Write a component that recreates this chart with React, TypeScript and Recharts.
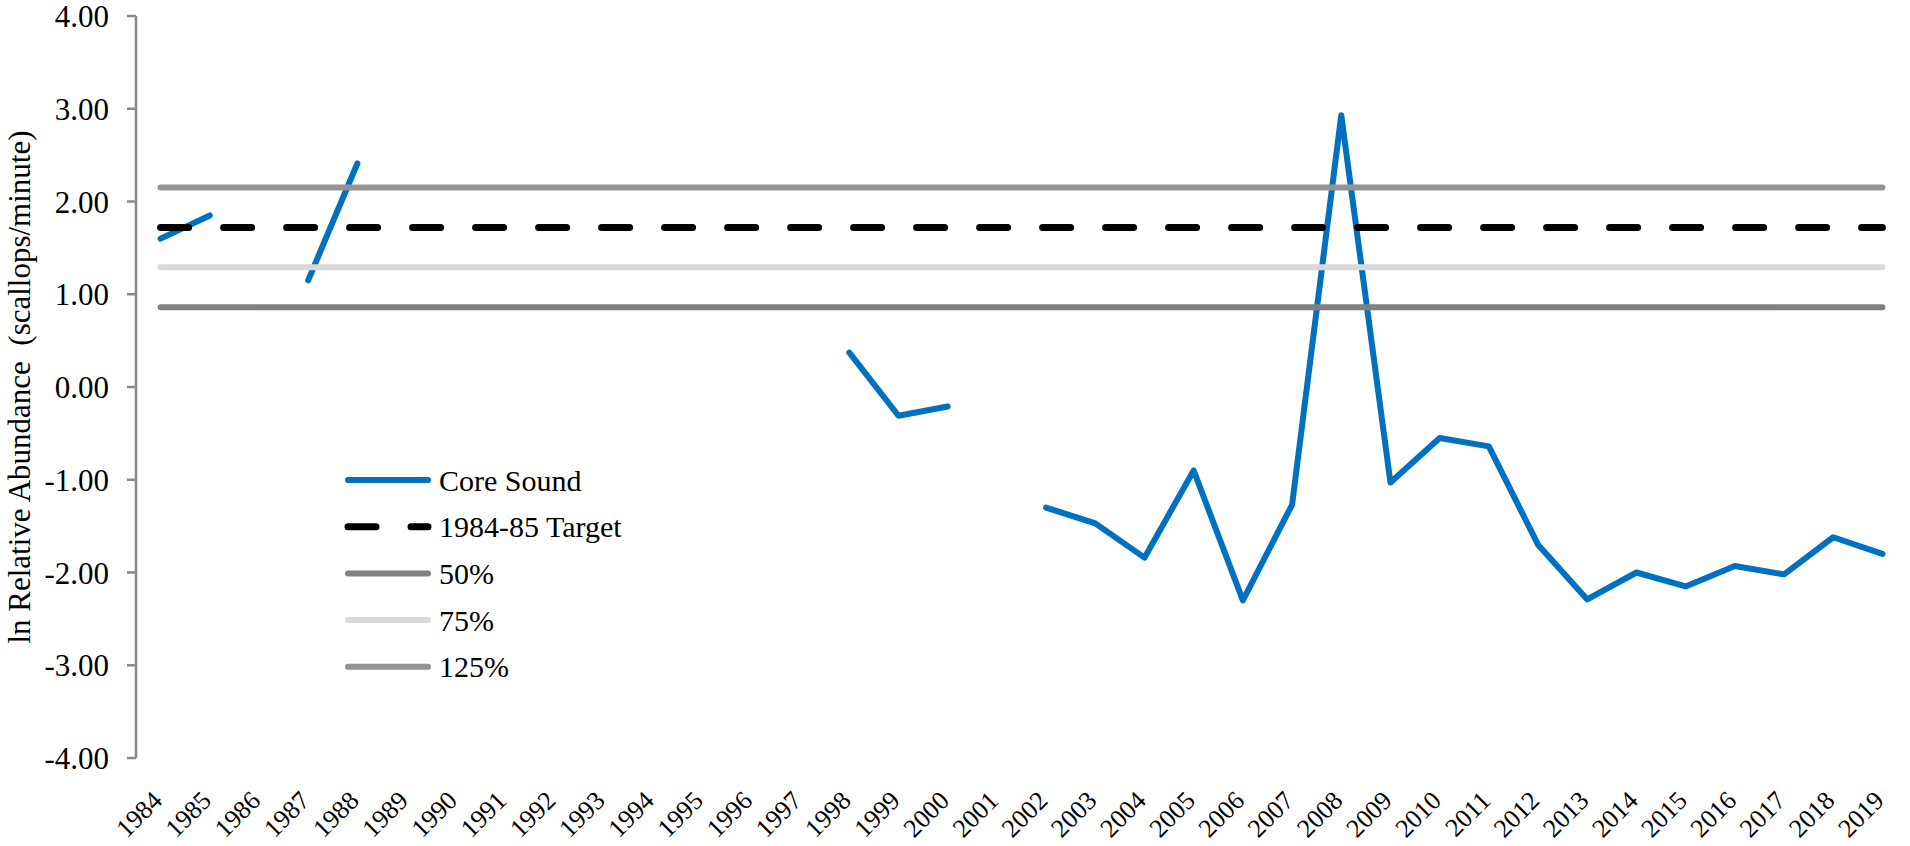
import { LineChart, Line, XAxis, YAxis, Legend } from "recharts";

const years = [
  1984, 1985, 1986, 1987, 1988, 1989, 1990, 1991, 1992, 1993, 1994, 1995,
  1996, 1997, 1998, 1999, 2000, 2001, 2002, 2003, 2004, 2005, 2006, 2007,
  2008, 2009, 2010, 2011, 2012, 2013, 2014, 2015, 2016, 2017, 2018, 2019,
];

// ln relative abundance, Core Sound (gaps = no survey)
const coreSound = [
  1.6, 1.85, null, 1.15, 2.41, null, null, null, null, null, null, null,
  null, null, 0.37, -0.31, -0.21, null, -1.3, -1.47, -1.84, -0.9, -2.3, -1.27,
  2.93, -1.03, -0.55, -0.64, -1.7, -2.29, -2.0, -2.15, -1.93, -2.02, -1.62, -1.8,
];

const targetValue = 1.72;
const pct50Value = 0.86;
const pct75Value = 1.29;
const pct125Value = 2.15;

const yTicks = [-4, -3, -2, -1, 0, 1, 2, 3, 4];

const FONT = "'Liberation Serif', 'Times New Roman', serif";
const AXIS = "#898989";

const series = [
  { key: "core", name: "Core Sound", color: "#0070C0", width: 6, dash: undefined },
  { key: "target", name: "1984-85 Target", color: "#000000", width: 7, dash: "28 35" },
  { key: "p50", name: "50%", color: "#808080", width: 6, dash: undefined },
  { key: "p75", name: "75%", color: "#D9D9D9", width: 6, dash: undefined },
  { key: "p125", name: "125%", color: "#939393", width: 6, dash: undefined },
];

const data = years.map((year, i) => ({
  year,
  core: coreSound[i],
  target: targetValue,
  p50: pct50Value,
  p75: pct75Value,
  p125: pct125Value,
}));

// tick marks sit between the years, Excel style
const bounds = [...years.map((y) => y - 0.5), years[years.length - 1] + 0.5];
const xDomain = [bounds[0], bounds[bounds.length - 1]];

function YearTick(props: any) {
  const { x, y, payload } = props;
  return (
    <text
      transform={`translate(${x + 3},${y + 44}) rotate(-45)`}
      textAnchor="end"
      fontSize={26}
      fontFamily={FONT}
      fill="#000"
    >
      {payload.value}
    </text>
  );
}

function YLabel(props: any) {
  const vb = props.viewBox;
  const cx = vb.x + 19;
  const cy = vb.y + vb.height / 2;
  return (
    <text
      transform={`translate(${cx},${cy}) rotate(-90)`}
      textAnchor="middle"
      dominantBaseline="central"
      fontSize={31}
      fontFamily={FONT}
      fill="#000"
      style={{ whiteSpace: "pre" }}
    >
      ln Relative Abundance  (scallops/minute)
    </text>
  );
}

function LegendBox(props: any) {
  const order = (k: any) => series.findIndex((s) => s.key === k);
  const items = [...(props.payload || [])].sort((a: any, b: any) => order(a.dataKey) - order(b.dataKey));
  const rowH = 46.7;
  return (
    <svg width={320} height={250}>
      {items.map((entry: any, i: number) => {
        const s = series.find((d) => d.key === entry.dataKey) || series[0];
        const cy = 24 + i * rowH;
        return (
          <g key={s.key}>
            <line
              x1={11}
              x2={91}
              y1={cy}
              y2={cy}
              stroke={s.color}
              strokeWidth={s.width}
              strokeDasharray={s.dash}
              strokeLinecap="round"
            />
            <text x={102} y={cy} dominantBaseline="central" fontSize={30} fontFamily={FONT} fill="#000">
              {entry.value}
            </text>
          </g>
        );
      })}
    </svg>
  );
}

export default function App() {
  return (
    <div style={{ position: "absolute", left: 0, top: 0, fontFamily: FONT }}>
      <LineChart width={1910} height={846} data={data} margin={{ top: 16, right: 3, bottom: 0, left: 0 }}>
        <XAxis
          xAxisId="marks"
          type="number"
          dataKey="year"
          domain={xDomain}
          ticks={bounds}
          interval={0}
          height={0}
          tick={false}
          tickSize={10}
          axisLine={{ stroke: AXIS, strokeWidth: 2.5 }}
          tickLine={{ stroke: AXIS, strokeWidth: 2.5 }}
        />
        <XAxis
          xAxisId="years"
          type="number"
          dataKey="year"
          domain={xDomain}
          ticks={years}
          interval={0}
          height={88}
          axisLine={false}
          tickLine={false}
          tickSize={0}
          tickMargin={0}
          tick={<YearTick />}
        />
        <YAxis
          type="number"
          domain={[-4, 4]}
          ticks={yTicks}
          interval={0}
          width={136}
          tickFormatter={(v: number) => v.toFixed(2)}
          tickSize={9}
          tickMargin={18}
          tick={{ fontSize: 31, fill: "#000", fontFamily: FONT }}
          axisLine={{ stroke: AXIS, strokeWidth: 2.5 }}
          tickLine={{ stroke: AXIS, strokeWidth: 2.5 }}
          label={(p: any) => <YLabel {...p} />}
        />
        <Legend
          layout="vertical"
          align="center"
          verticalAlign="middle"
          wrapperStyle={{ left: 337, top: 456, width: 320 }}
          content={(p: any) => <LegendBox {...p} />}
        />
        {series.map((s) => (
          <Line
            key={s.key}
            xAxisId="years"
            type="linear"
            dataKey={s.key}
            name={s.name}
            stroke={s.color}
            strokeWidth={s.width}
            strokeDasharray={s.dash}
            strokeLinecap="round"
            strokeLinejoin="round"
            dot={false}
            activeDot={false}
            isAnimationActive={false}
          />
        ))}
      </LineChart>
    </div>
  );
}
